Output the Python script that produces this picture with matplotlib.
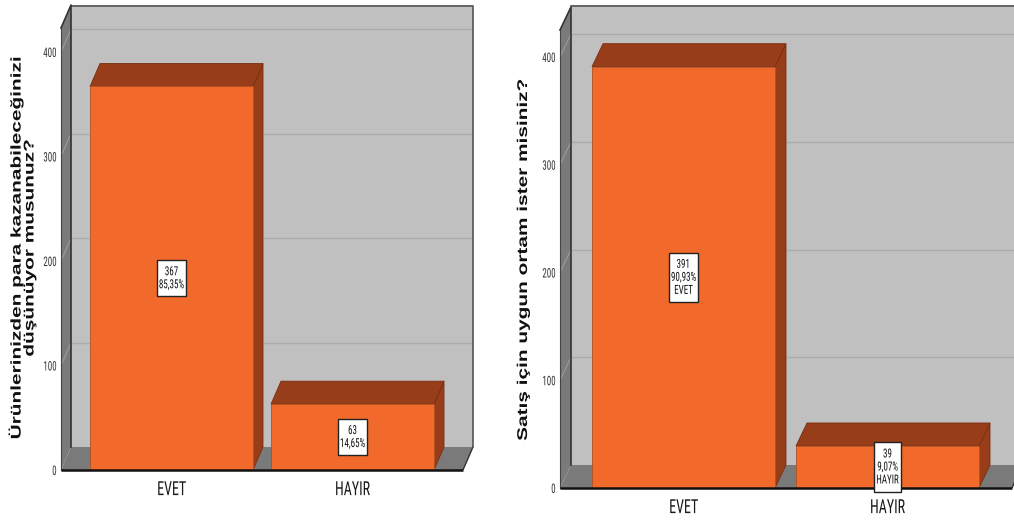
import matplotlib
matplotlib.use("Agg")
import os
import matplotlib.pyplot as plt
from matplotlib.patches import Polygon, Rectangle
from matplotlib.patheffects import AbstractPathEffect
from matplotlib.transforms import Affine2D
from matplotlib.path import Path
from matplotlib import font_manager
from matplotlib.font_manager import FontProperties

# ---- data -------------------------------------------------------------
categories = ["EVET", "HAYIR"]

left_counts = [367, 63]
left_pcts = ["85,35%", "14,65%"]
left_title = "Ürünlerinizden para kazanabileceğinizi\ndüşünüyor musunuz?"

right_counts = [391, 39]
right_pcts = ["90,93%", "9,07%"]
right_title = "Satış için uygun ortam ister misiniz?"

y_ticks = [0, 100, 200, 300, 400]

# ---- style ------------------------------------------------------------
FRONT = "#F26A2B"
SHADE = "#973D19"
WALL = "#C0C0C0"
DARK = "#7A7A7A"
GRID = "#ABABAB"

# pick a narrow face for the axis and value texts
_files = [f.fname for f in font_manager.fontManager.ttflist]
_narrow = None
for key in ["LiberationSansNarrow-Regular", "RobotoCondensed-Regular",
            "Roboto_Condensed-Regular", "OpenSans_Condensed-Regular",
            "DejaVuSansCondensed.ttf", "Condensed-Regular", "Condensed"]:
    hits = [p for p in _files if key.lower() in os.path.basename(p).lower()
            and "bold" not in os.path.basename(p).lower()
            and "oblique" not in os.path.basename(p).lower()
            and "italic" not in os.path.basename(p).lower()]
    if hits:
        _narrow = sorted(hits)[0]
        break


def narrow(size):
    if _narrow:
        return FontProperties(fname=_narrow, size=size)
    return FontProperties(family="DejaVu Sans", stretch="condensed", size=size)


class Squeeze(AbstractPathEffect):
    """Scale each glyph line in its own frame (sx along the baseline, sy across it)."""

    def __init__(self, sx=1.0, sy=1.0, anchor="center"):
        super().__init__()
        self.sx, self.sy, self.anchor = sx, sy, anchor

    def draw_path(self, renderer, gc, tpath, affine, rgbFace=None):
        ext = tpath.get_extents()
        if self.anchor == "right":
            ax_ = ext.x1
        elif self.anchor == "left":
            ax_ = ext.x0
        else:
            ax_ = 0.5 * (ext.x0 + ext.x1)
        ay_ = 0.5 * (ext.y0 + ext.y1)
        t = (Affine2D().translate(-ax_, -ay_).scale(self.sx, self.sy)
             .translate(ax_, ay_))
        renderer.draw_path(gc, tpath, t + affine, rgbFace)


def squeezed_box(sx, padx, pady):
    def box(x0, y0, width, height, mutation_size):
        cx = x0 + width / 2
        w = width * sx + 2 * padx * mutation_size
        h = height + 2 * pady * mutation_size
        l, b = cx - w / 2, y0 - pady * mutation_size
        return Path([(l, b), (l + w, b), (l + w, b + h), (l, b + h), (l, b)],
                    closed=True)
    return box


W, H = 1014, 525
fig = plt.figure(figsize=(W / 100, H / 100), dpi=100)


def px_axes(left, right, top, bottom):
    return fig.add_axes([left / W, 1 - bottom / H, (right - left) / W, (bottom - top) / H])


def draw_panel(ax, counts, pcts, title, show_cat, geom):
    cx0 = geom["cat_left"]          # front-left edge of floor, category units
    floor_w = geom["floor_w"]
    cx1 = cx0 + floor_w
    dx = geom["dx"]
    dy = geom["dy"]
    ytop = geom["ytop"]
    side_top = geom["side_top"]
    bw = geom["bar_w"]

    ax.set_xlim(cx0, geom["xr"])
    ax.set_ylim(0, ytop)
    for s in ax.spines.values():
        s.set_visible(False)
    ax.set_facecolor("none")

    # back wall
    ax.add_patch(Rectangle((cx0 + dx, dy), floor_w, ytop - dy, facecolor=WALL,
                           edgecolor="none", zorder=1))
    ax.plot([cx0 + dx, cx1 + dx, cx1 + dx], [ytop - 0.8, ytop - 0.8, dy],
            color="#555555", lw=1.2, zorder=1.5, clip_on=False)
    for t in y_ticks[1:]:
        ax.plot([cx0 + dx, cx1 + dx], [t + dy, t + dy], color=GRID, lw=1.0, zorder=1.2)

    # side wall
    ax.add_patch(Polygon([(cx0, 0), (cx0, side_top), (cx0 + dx, side_top + dy),
                          (cx0 + dx, dy)], closed=True, facecolor=DARK,
                         edgecolor="none", zorder=2))
    ax.plot([cx0, cx0 + dx, cx0 + dx], [side_top, side_top + dy, dy], color="#333333",
            lw=1.2, zorder=2.2, clip_on=False)
    ax.plot([cx0, cx0], [0, side_top], color="#444444", lw=0.8, zorder=2.2, clip_on=False)
    for t in y_ticks[1:]:
        ax.plot([cx0, cx0 + dx], [t, t + dy], color="#9C9C9C", lw=0.8, zorder=2.1)

    # floor
    ax.add_patch(Polygon([(cx0, 0), (cx1, 0), (cx1 + dx, dy), (cx0 + dx, dy)],
                         closed=True, facecolor=DARK, edgecolor="none", zorder=2))
    ax.plot([cx1, cx1 + dx], [0, dy], color="#333333", lw=1.0, zorder=2.2)

    # bars (front faces through ax.bar, depth faces from the same values)
    xs = list(range(len(counts)))
    for x, v in zip(xs, counts):
        l, r = x - bw / 2, x + bw / 2
        ax.add_patch(Polygon([(r, 0), (r, v), (r + dx, v + dy), (r + dx, dy)],
                             closed=True, facecolor=SHADE, edgecolor="#7A2E10",
                             lw=0.6, zorder=3))
        ax.add_patch(Polygon([(l, v), (r, v), (r + dx, v + dy), (l + dx, v + dy)],
                             closed=True, facecolor=SHADE, edgecolor="#7A2E10",
                             lw=0.6, zorder=3))
    ax.bar(xs, counts, width=bw, color=FRONT, edgecolor="#B4501F", lw=0.6, zorder=4)

    # front floor edge
    ax.plot([cx0, cx1], [0, 0], color="#111111", lw=1.8, zorder=5, clip_on=False,
            solid_capstyle="butt")

    # value labels
    for x, v, p, c in zip(xs, counts, pcts, categories):
        txt = f"{v}\n{p}" + (f"\n{c}" if show_cat else "")
        ax.text(x, v / 2, txt, ha="center", va="center", fontproperties=narrow(9),
                color="#111111", linespacing=1.0, zorder=6,
                path_effects=[Squeeze(sx=0.72)],
                bbox=dict(boxstyle=squeezed_box(0.72, 0.18, 0.42), facecolor="white",
                          edgecolor="#222222", lw=1.0))

    # axes text
    ax.set_yticks(y_ticks)
    ax.set_yticklabels([str(t) for t in y_ticks], fontproperties=narrow(9.5),
                       color="#333333", path_effects=[Squeeze(sx=0.68, anchor="right")])
    ax.tick_params(axis="y", length=0, pad=geom["ypad"])
    ax.set_xticks(xs)
    ax.set_xticklabels(categories, fontproperties=narrow(14), color="#1A1A1A",
                       path_effects=[Squeeze(sx=0.72)])
    ax.tick_params(axis="x", length=0, pad=geom["xpad"])

    ax.set_ylabel(title, family=["Liberation Sans", "DejaVu Sans"], fontweight="bold",
                  fontsize=10.2, color="#111111", linespacing=0.9,
                  path_effects=[Squeeze(sx=1.47)])
    ax.yaxis.set_label_coords(*geom["label_xy"])
    ax.yaxis.label.set_verticalalignment("center")
    ax.yaxis.label.set_horizontalalignment("center")


# left panel: 0 at y=470 px, 1.045 px per unit, 181 px per category
axL = px_axes(61, 473, 5, 470)
sx, sy = 181.0, 1.045
draw_panel(axL, left_counts, left_pcts, left_title, False, dict(
    cat_left=-110.5 / sx, floor_w=402 / sx, xr=(473 - 171.5) / sx,
    dx=10 / sx, dy=23 / sy, ytop=465 / sy, side_top=(470 - 28) / sy,
    bar_w=163 / sx, ypad=3, xpad=8,
    label_xy=(-39 / 412, (470 - 248) / 465)))

# right panel: 0 at y=488 px, 1.0775 px per unit, 204 px per category
axR = px_axes(560, 1014, 5, 488)
sx, sy = 204.0, 1.0775
draw_panel(axR, right_counts, right_pcts, right_title, True, dict(
    cat_left=-123.5 / sx, floor_w=452 / sx, xr=(1014 - 683.5) / sx,
    dx=11 / sx, dy=23 / sy, ytop=483 / sy, side_top=(488 - 30) / sy,
    bar_w=183 / sx, ypad=3, xpad=8,
    label_xy=(-37 / 454, (488 - 260) / 483)))

fig.savefig("out.png", dpi=100, facecolor="white")
